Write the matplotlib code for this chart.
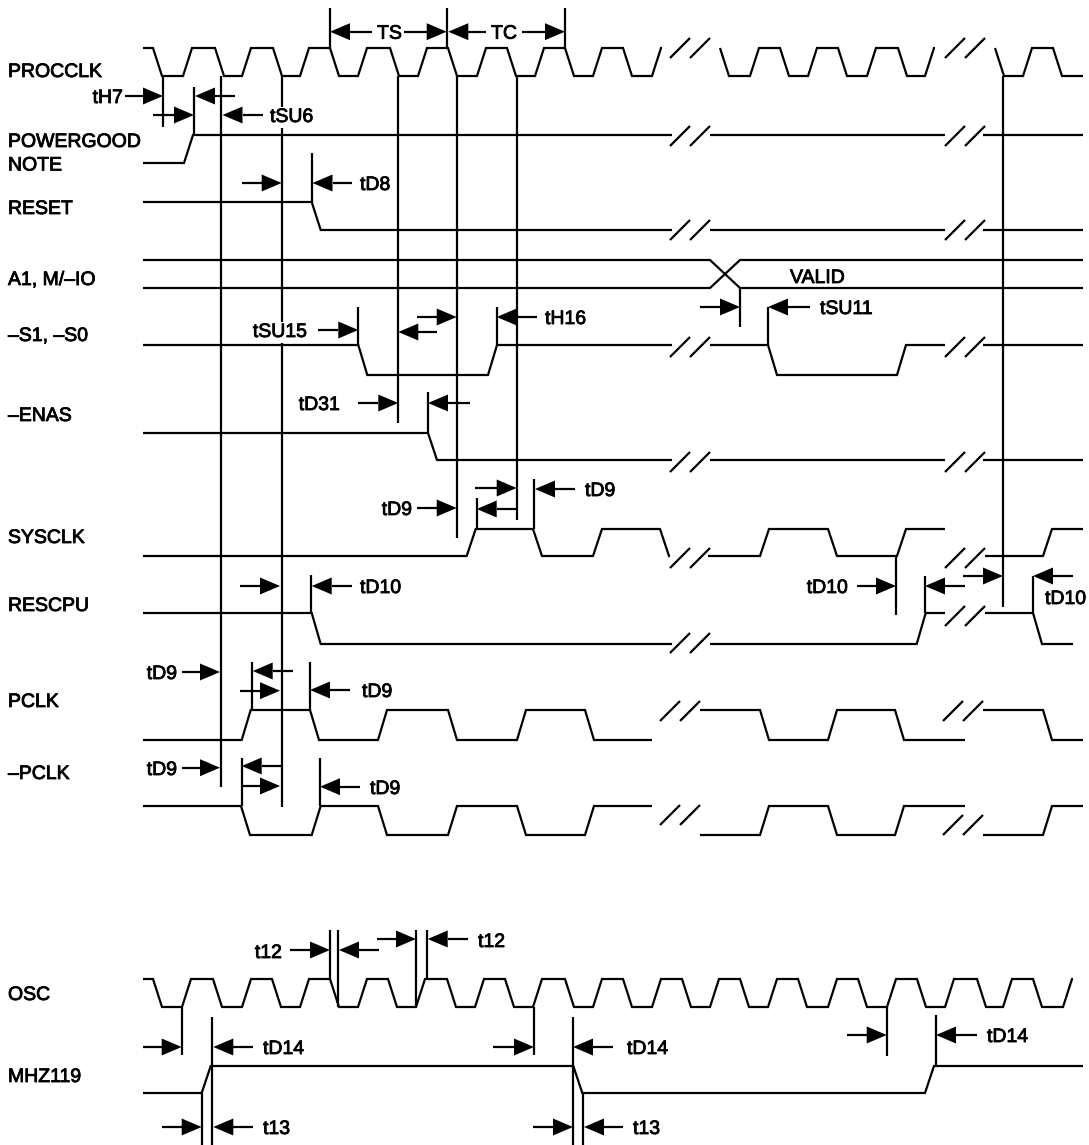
import matplotlib
matplotlib.use("Agg")
import matplotlib.pyplot as plt
import matplotlib.patheffects as pe

plt.rcParams['font.family'] = ['Liberation Sans', 'DejaVu Sans']

# ---------------- data ----------------
EDGE = 9  # transition width (time units = px)

signal_names = ["PROCCLK", "POWERGOOD", "RESET", "S1S0", "ENAS", "SYSCLK",
                "RESCPU", "PCLK", "NPCLK", "OSC", "MHZ119"]
high_y = [48, 135, 202, 345, 433, 529, 613, 710, 806, 979, 1066]
low_y = [76, 163, 230, 375, 460, 556, 644, 740, 835, 1007, 1093]

# segments: (start, end, initial level, transition start times)
procclk_segs = [(143, 662, 1, [153, 183, 215, 242, 273, 300, 330, 358, 390, 418,
                               448, 477, 507, 535, 565, 593, 623, 652]),
                (720, 935, 1, [720, 750, 780, 808, 838, 867, 898, 925]),
                (995, 1083, 1, [995, 1023, 1053])]
powergood_segs = [(143, 672, 0, [184]), (710, 945, 1, []), (983, 1083, 1, [])]
reset_segs = [(143, 672, 1, [311.7]), (710, 945, 0, []), (983, 1083, 0, [])]
s1s0_segs = [(143, 672, 1, [358.3, 488]), (710, 945, 1, [768, 897]), (983, 1083, 1, [])]
enas_segs = [(143, 672, 1, [428]), (710, 945, 0, []), (983, 1083, 0, [])]
sysclk_segs = [(143, 670, 0, [466.7, 533, 593, 660]), (708, 945, 0, [760, 828, 897]),
               (985, 1083, 0, [1043])]
rescpu_segs = [(143, 672, 1, [311.7]), (710, 945, 0, [916.7]), (985, 1073, 1, [1033])]
pclk_segs = [(143, 652, 0, [241.7, 310, 378, 448, 517, 585]),
             (700, 965, 1, [760, 828, 895]), (983, 1083, 1, [1043])]
npclk_segs = [(143, 652, 1, [241, 311.7, 378, 448, 517, 585]),
              (700, 965, 0, [760, 828, 895]), (983, 1083, 0, [1043])]
osc_segs = [(143, 1073, 1, [153, 182, 213, 242, 272, 300, 330, 358, 388, 416, 447, 475,
                            505, 533, 565, 593, 623, 652, 682, 710, 740, 768, 798, 828,
                            858, 887, 917, 945, 977, 1003, 1033, 1063])]
mhz_segs = [(143, 1083, 0, [201.7, 573.3, 925])]
all_segs = [procclk_segs, powergood_segs, reset_segs, s1s0_segs, enas_segs, sysclk_segs,
            rescpu_segs, pclk_segs, npclk_segs, osc_segs, mhz_segs]

# bus A1, M/-IO
bus_y = (260, 288)
bus_cross = (710, 740)
bus_span = (143, 1083)

# break marks (x start, y centre)
breaks = [(670, 48), (945, 48), (670, 136), (945, 136), (670, 230), (945, 230),
          (670, 347), (945, 347), (670, 462), (945, 462), (670, 558), (945, 558),
          (670, 643), (945, 616), (660, 711), (943, 711), (660, 815), (943, 825)]

# vertical reference lines (x, y top, y bottom)
verticals = [(163, 76, 127), (194, 87, 135), (221, 76, 787), (281.7, 76, 807),
             (311.7, 153, 203), (330, 8, 48), (446.7, 8, 48), (565, 8, 48),
             (398.3, 76, 423), (456.7, 76, 538), (516.7, 76, 520),
             (740, 288, 327), (768, 307, 345), (358.3, 307, 345), (496.7, 307, 345),
             (428, 392, 433), (476.7, 498, 529), (534, 479, 529),
             (311, 575, 613), (896, 556, 615), (925, 576, 613), (1003, 76, 607),
             (1033, 576, 613), (252, 662, 710), (310, 662, 710), (241.5, 758, 806),
             (320, 758, 806), (330, 930, 979), (338.3, 930, 1007), (416, 930, 1007),
             (426.7, 930, 979), (181.7, 1007, 1055), (211.7, 1017, 1145),
             (201.7, 1093, 1145), (534, 1007, 1055), (573.3, 1017, 1145),
             (583.3, 1093, 1145), (886.7, 1007, 1056), (936, 1015, 1065)]

# arrows (tip x, y, tail x)
arrows = [(163, 96, 125), (195, 96, 235), (194, 115, 153), (222.5, 115, 263),
          (281.7, 183, 242), (312.5, 183, 352), (358.3, 330, 318), (398.3, 332, 437),
          (456.7, 317, 417), (496.7, 317, 537), (740, 307, 700), (768, 307, 810),
          (398.3, 403, 358), (428, 403, 470), (456.7, 508, 417), (476.7, 509, 516.7),
          (516.7, 488, 475), (535, 489, 575), (280, 586, 240), (311.7, 586, 352),
          (896, 586, 857), (925, 586, 965), (1003, 576, 963), (1033, 576, 1073),
          (220, 672, 182), (252.7, 671, 292.7), (280, 690.7, 240), (310, 690, 350),
          (220, 767.7, 182), (241.7, 766, 281.7), (280, 786, 243), (320, 786.7, 360),
          (330, 950, 290), (339, 950, 379), (416, 939, 376.7), (427.7, 939, 468),
          (181.7, 1047, 143), (213.3, 1047, 253), (534, 1047, 493), (573, 1047, 613),
          (886.7, 1035, 847), (936, 1035, 977), (201.7, 1127, 161.7), (213.3, 1127, 253),
          (573, 1127, 533), (584, 1127, 623),
          (330, 31.7, 372), (446.7, 31.7, 404), (448.3, 31.7, 486), (565, 31.7, 522)]

# signal labels (text, y centre)
signal_labels = [("PROCCLK", 70), ("POWERGOOD", 140), ("NOTE", 163.5), ("RESET", 207),
                 ("A1, M/\u2013IO", 278), ("\u2013S1, \u2013S0", 334), ("\u2013ENAS", 414),
                 ("SYSCLK", 536), ("RESCPU", 604), ("PCLK", 700), ("\u2013PCLK", 772),
                 ("OSC", 993), ("MHZ119", 1075)]

# timing labels (text, x, y centre, align, white background)
timing_labels = [("tH7", 123, 96, 'right', False), ("tSU6", 270, 115, 'left', True),
                 ("tD8", 360, 183, 'left', False), ("tSU15", 307, 330, 'right', True),
                 ("tH16", 545, 317, 'left', False), ("VALID", 790, 276, 'left', False),
                 ("tSU11", 820, 307, 'left', False), ("tD31", 340, 403, 'right', False),
                 ("tD9", 412, 508, 'right', False), ("tD9", 585, 489, 'left', False),
                 ("tD10", 360, 586, 'left', False), ("tD10", 848, 586, 'right', False),
                 ("tD10", 1045, 597, 'left', False), ("tD9", 177, 672, 'right', False),
                 ("tD9", 362, 690, 'left', False), ("tD9", 177, 768, 'right', False),
                 ("tD9", 370, 787, 'left', False), ("t12", 282, 951, 'right', False),
                 ("t12", 478, 940, 'left', False), ("tD14", 263, 1047, 'left', False),
                 ("tD14", 627, 1047, 'left', False), ("tD14", 987, 1035, 'left', False),
                 ("t13", 263, 1127, 'left', False), ("t13", 633, 1127, 'left', False),
                 ("TS", 389.5, 31.7, 'center', True), ("TC", 504, 31.7, 'center', True)]

# ---------------- drawing ----------------
W, H = 1089, 1145
fig = plt.figure(figsize=(W / 100, H / 100), dpi=100)
ax = fig.add_axes([0, 0, 1, 1])
ax.set_xlim(0, W)
ax.set_ylim(H, 0)
ax.axis('off')

LW = 1.6
kw = dict(color='black', lw=LW, solid_capstyle='butt', solid_joinstyle='miter')


def wave(seg, hy, ly):
    x0, x1, lev, trans = seg
    ys = {1: hy, 0: ly}
    xs, yv = [x0], [ys[lev]]
    for t in trans:
        xs.append(t); yv.append(ys[lev])
        lev = 1 - lev
        xs.append(t + EDGE); yv.append(ys[lev])
    xs.append(x1); yv.append(ys[lev])
    ax.plot(xs, yv, **kw)


for segs, hy, ly in zip(all_segs, high_y, low_y):
    for s in segs:
        wave(s, hy, ly)

# bus
ax.plot([bus_span[0], bus_cross[0], bus_cross[1], bus_span[1]],
        [bus_y[0], bus_y[0], bus_y[1], bus_y[1]], **kw)
ax.plot([bus_span[0], bus_cross[0], bus_cross[1], bus_span[1]],
        [bus_y[1], bus_y[1], bus_y[0], bus_y[0]], **kw)

# break marks
for bx, by in breaks:
    for dx in (0, 20):
        ax.plot([bx + dx, bx + dx + 20], [by + 10, by - 10], **kw)

for vx, y0, y1 in verticals:
    ax.plot([vx, vx], [y0, y1], **kw)

HL, HW = 20, 8.5
for tip, y, tail in arrows:
    d = 1 if tail < tip else -1
    base = tip - d * HL
    ax.plot([tail, base], [y, y], **kw)
    ax.fill([tip, base, base], [y, y - HW, y + HW], color='black', lw=0, zorder=3)

FS = 14
stroke = [pe.withStroke(linewidth=0.6, foreground='black')]
for txt, y in signal_labels:
    ax.text(8, y + 7, txt, ha='left', va='baseline', fontsize=FS, color='black',
            path_effects=stroke)

for txt, x, y, ha, bg in timing_labels:
    t = ax.text(x, y + 7, txt, ha=ha, va='baseline', fontsize=FS, color='black', zorder=5,
                path_effects=stroke)
    if bg:
        t.set_bbox(dict(facecolor='white', edgecolor='none', pad=1.5))

fig.savefig("out.png", dpi=100, facecolor='white')
